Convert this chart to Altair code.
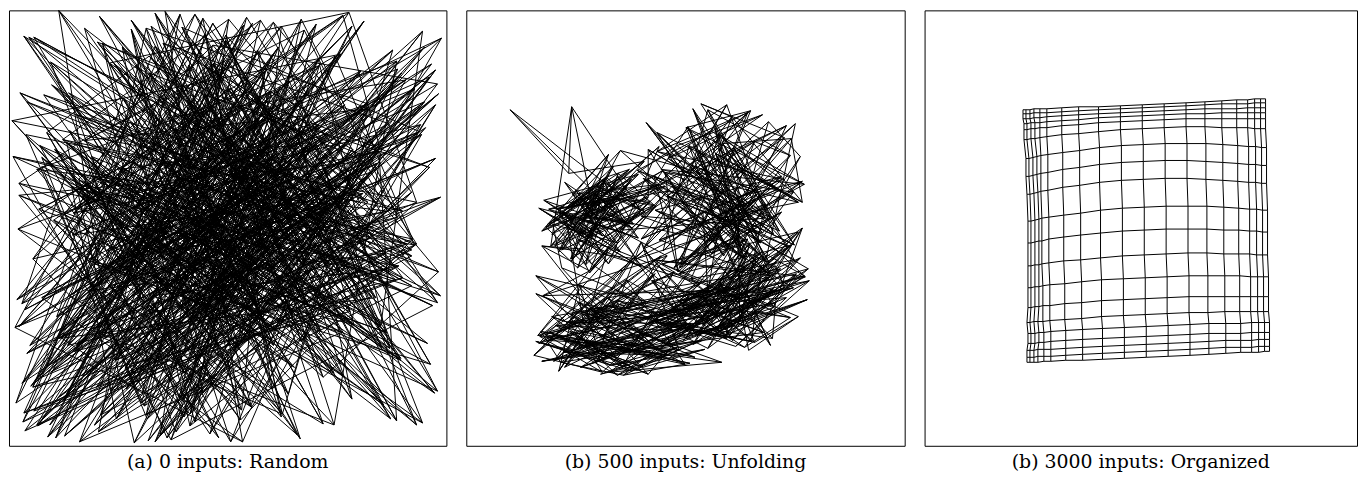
import altair as alt
import pandas as pd

# ---- panel (a): random initial weights (node x / y, one list per mesh row) ----
XA = [
    [212, 37, 398, 145, 276, 61, 330, 187, 9, 421, 254, 103, 366, 28, 299, 170, 433, 82, 241, 355],
    [130, 407, 56, 318, 199, 15, 264, 392, 117, 233, 47, 344, 161, 284, 426, 72, 207, 381, 138, 19],
    [289, 94, 223, 434, 166, 309, 41, 374, 251, 125, 197, 412, 5, 336, 88, 270, 152, 30, 397, 214],
    [51, 348, 181, 13, 402, 109, 238, 67, 322, 186, 431, 98, 277, 220, 140, 363, 24, 305, 172, 420],
    [384, 157, 270, 329, 83, 436, 127, 205, 40, 358, 149, 261, 388, 63, 246, 11, 338, 114, 281, 75],
    [18, 226, 120, 392, 259, 31, 417, 296, 174, 66, 313, 185, 44, 410, 133, 229, 375, 208, 58, 343],
    [247, 70, 340, 195, 15, 273, 142, 355, 92, 425, 230, 17, 319, 161, 290, 398, 104, 256, 434, 167],
    [101, 415, 35, 237, 361, 188, 57, 268, 407, 135, 35, 379, 214, 82, 349, 44, 192, 311, 123, 285],
    [329, 176, 288, 8, 143, 396, 225, 117, 300, 252, 160, 65, 433, 255, 12, 178, 420, 68, 219, 393],
    [62, 302, 154, 431, 219, 93, 345, 26, 183, 376, 418, 110, 275, 178, 327, 232, 146, 383, 27, 245],
    [407, 140, 218, 96, 318, 248, 6, 408, 235, 48, 198, 292, 121, 368, 90, 437, 266, 162, 335, 112],
    [158, 264, 377, 52, 187, 428, 165, 330, 72, 289, 131, 23, 347, 201, 284, 58, 204, 401, 20, 266],
    [292, 32, 113, 283, 363, 78, 299, 184, 416, 126, 356, 243, 174, 33, 418, 153, 314, 86, 372, 142],
    [22, 382, 243, 169, 49, 214, 393, 102, 267, 197, 17, 391, 87, 246, 125, 337, 30, 236, 176, 427],
    [363, 207, 16, 410, 296, 136, 54, 358, 153, 325, 250, 116, 304, 430, 198, 73, 383, 276, 55, 309],
    [126, 300, 189, 73, 237, 347, 262, 10, 220, 412, 85, 178, 40, 143, 371, 272, 128, 12, 254, 189],
    [415, 88, 322, 268, 124, 26, 184, 313, 385, 45, 278, 431, 225, 317, 52, 207, 433, 159, 390, 78],
    [186, 246, 50, 149, 386, 199, 425, 128, 60, 231, 149, 303, 96, 184, 260, 112, 292, 347, 108, 236],
    [43, 359, 279, 436, 81, 316, 91, 242, 339, 171, 396, 12, 359, 412, 173, 394, 61, 220, 294, 423],
    [268, 119, 407, 20, 213, 159, 367, 27, 180, 295, 63, 213, 137, 70, 326, 18, 240, 373, 141, 35],
]
YA = [
    [341, 88, 205, 19, 412, 163, 270, 34, 398, 121, 308, 56, 232, 375, 141, 427, 77, 285, 10, 196],
    [59, 250, 133, 372, 27, 298, 182, 416, 91, 340, 214, 5, 286, 110, 359, 173, 38, 247, 401, 128],
    [224, 410, 12, 266, 169, 74, 432, 145, 301, 22, 388, 196, 114, 47, 258, 325, 203, 420, 66, 293],
    [393, 143, 311, 86, 238, 355, 18, 207, 127, 267, 63, 333, 409, 176, 21, 97, 381, 136, 317, 40],
    [117, 36, 236, 420, 324, 191, 271, 99, 361, 187, 437, 155, 43, 290, 402, 223, 8, 163, 244, 370],
    [304, 192, 384, 54, 104, 421, 128, 336, 7, 229, 118, 262, 367, 82, 195, 313, 141, 56, 431, 181],
    [16, 340, 98, 206, 378, 40, 224, 263, 427, 70, 343, 29, 218, 433, 121, 272, 386, 230, 87, 309],
    [245, 125, 292, 437, 150, 261, 395, 15, 186, 398, 151, 400, 106, 255, 319, 55, 188, 17, 372, 214],
    [368, 20, 171, 322, 66, 353, 81, 161, 299, 43, 254, 180, 297, 13, 177, 412, 95, 346, 133, 62],
    [86, 268, 431, 152, 245, 9, 306, 382, 58, 320, 24, 414, 80, 347, 243, 151, 290, 263, 30, 401],
    [280, 410, 53, 284, 419, 211, 150, 233, 415, 143, 307, 96, 252, 165, 382, 31, 334, 111, 196, 263],
    [143, 85, 342, 3, 190, 300, 435, 49, 199, 362, 176, 340, 19, 301, 74, 208, 429, 73, 348, 88],
    [430, 203, 162, 389, 102, 134, 23, 354, 118, 255, 64, 220, 393, 139, 418, 277, 59, 282, 157, 436],
    [30, 327, 277, 122, 433, 62, 211, 280, 384, 11, 408, 274, 170, 233, 13, 327, 163, 405, 238, 57],
    [196, 57, 417, 239, 12, 388, 332, 102, 246, 197, 316, 40, 301, 388, 104, 437, 205, 19, 326, 129],
    [355, 232, 7, 183, 295, 178, 114, 294, 33, 420, 150, 367, 126, 49, 292, 121, 251, 321, 98, 417],
    [100, 420, 194, 340, 115, 253, 409, 52, 343, 78, 227, 98, 437, 204, 333, 16, 386, 156, 261, 21],
    [266, 157, 311, 39, 414, 88, 161, 438, 136, 274, 6, 299, 36, 421, 64, 218, 112, 394, 57, 246],
    [420, 14, 134, 290, 179, 326, 35, 227, 372, 185, 355, 189, 155, 238, 393, 260, 340, 28, 232, 338],
    [47, 363, 244, 95, 351, 4, 291, 406, 82, 434, 124, 433, 292, 108, 181, 426, 82, 198, 414, 160],
]

# ---- panel (b): after 500 inputs, partially unfolded ----
XB = [
    [118, 158, 44, 103, 179, 134, 86, 148, 194, 128, 212, 298, 185, 257, 320, 236, 279, 198, 331, 265],
    [93, 138, 175, 106, 125, 80, 164, 115, 143, 202, 284, 203, 246, 318, 176, 267, 338, 224, 301, 250],
    [148, 103, 131, 85, 185, 120, 140, 168, 97, 155, 231, 309, 262, 192, 290, 215, 327, 248, 181, 274],
    [123, 195, 76, 135, 112, 153, 101, 129, 173, 117, 322, 244, 178, 283, 225, 306, 258, 202, 294, 336],
    [167, 107, 143, 122, 89, 189, 131, 82, 146, 198, 259, 192, 313, 240, 286, 172, 330, 269, 217, 304],
    [99, 137, 117, 161, 127, 105, 180, 141, 92, 124, 207, 296, 251, 334, 221, 278, 189, 315, 243, 282],
    [133, 78, 173, 114, 150, 136, 96, 121, 200, 157, 301, 228, 275, 196, 340, 254, 213, 289, 326, 237],
    [110, 155, 125, 73, 119, 166, 145, 106, 132, 183, 183, 268, 305, 223, 261, 329, 200, 247, 290, 176],
    [152, 94, 129, 176, 102, 122, 83, 162, 115, 139, 245, 317, 190, 280, 234, 298, 271, 338, 209, 263],
    [87, 126, 191, 113, 141, 100, 159, 124, 76, 171, 292, 216, 256, 178, 325, 238, 306, 194, 273, 330],
    [96, 181, 72, 143, 235, 118, 202, 77, 160, 254, 262, 317, 214, 290, 338, 243, 189, 301, 275, 226],
    [148, 70, 214, 125, 88, 190, 137, 246, 105, 171, 329, 236, 283, 197, 309, 258, 341, 221, 292, 250],
    [70, 133, 176, 222, 152, 99, 264, 120, 196, 82, 205, 296, 252, 334, 231, 280, 193, 318, 245, 306],
    [189, 114, 93, 168, 240, 141, 73, 209, 130, 230, 274, 219, 312, 246, 187, 327, 265, 238, 344, 287],
    [126, 208, 150, 68, 179, 262, 112, 157, 248, 101, 240, 304, 200, 283, 255, 221, 336, 271, 313, 196],
    [230, 90, 195, 137, 74, 161, 220, 86, 174, 143, 316, 261, 343, 228, 296, 207, 277, 324, 252, 289],
    [104, 172, 247, 119, 204, 131, 79, 238, 115, 185, 229, 285, 256, 309, 184, 340, 243, 297, 266, 320],
    [166, 70, 139, 226, 98, 255, 152, 121, 216, 76, 299, 213, 332, 268, 250, 303, 195, 287, 233, 311],
    [212, 145, 84, 183, 129, 170, 236, 95, 158, 268, 258, 326, 280, 217, 345, 247, 311, 203, 290, 276],
    [135, 240, 178, 107, 257, 144, 192, 75, 225, 163, 218, 293, 242, 322, 271, 190, 308, 255, 334, 284],
]
YB = [
    [190, 215, 103, 167, 155, 205, 228, 181, 140, 197, 139, 108, 186, 222, 131, 97, 163, 245, 117, 175],
    [246, 174, 204, 100, 192, 221, 163, 211, 258, 185, 200, 152, 124, 173, 233, 110, 196, 139, 256, 121],
    [160, 202, 183, 240, 195, 259, 171, 218, 206, 144, 165, 228, 98, 145, 184, 262, 132, 205, 116, 240],
    [206, 178, 225, 196, 262, 167, 201, 187, 232, 214, 119, 176, 243, 106, 158, 211, 137, 190, 228, 150],
    [222, 188, 148, 210, 240, 199, 180, 218, 193, 164, 250, 126, 183, 215, 104, 164, 239, 141, 197, 115],
    [176, 230, 199, 216, 186, 253, 206, 171, 203, 267, 180, 237, 147, 196, 121, 252, 170, 225, 103, 190],
    [213, 194, 168, 228, 202, 190, 244, 209, 180, 224, 212, 102, 230, 163, 178, 128, 266, 199, 149, 232],
    [184, 246, 215, 202, 232, 173, 195, 255, 217, 191, 143, 194, 257, 120, 221, 186, 166, 248, 135, 210],
    [237, 206, 188, 261, 218, 227, 203, 179, 243, 211, 235, 170, 204, 252, 144, 227, 191, 175, 262, 218],
    [218, 258, 200, 234, 249, 210, 227, 265, 240, 253, 188, 259, 226, 172, 241, 205, 270, 234, 157, 254],
    [262, 296, 330, 241, 278, 318, 250, 290, 347, 226, 241, 206, 268, 300, 222, 287, 254, 198, 316, 273],
    [318, 270, 345, 302, 356, 268, 331, 285, 309, 340, 282, 314, 233, 258, 302, 195, 271, 332, 246, 220],
    [288, 347, 236, 320, 295, 362, 281, 310, 250, 335, 306, 247, 290, 226, 329, 265, 310, 284, 205, 340],
    [340, 279, 366, 252, 313, 300, 338, 266, 357, 302, 229, 296, 256, 318, 275, 239, 330, 292, 263, 313],
    [305, 325, 284, 350, 244, 333, 297, 362, 288, 317, 318, 271, 340, 244, 297, 325, 252, 309, 283, 336],
    [352, 320, 310, 367, 331, 274, 359, 311, 343, 292, 263, 330, 294, 339, 251, 305, 278, 241, 322, 295],
    [326, 365, 297, 340, 350, 316, 329, 284, 362, 338, 300, 238, 325, 283, 317, 270, 343, 260, 307, 282],
    [366, 336, 353, 318, 347, 305, 370, 341, 323, 356, 327, 296, 268, 335, 304, 249, 319, 336, 290, 260],
    [342, 360, 327, 369, 311, 348, 335, 357, 370, 320, 285, 312, 342, 300, 275, 330, 297, 318, 337, 303],
    [369, 344, 362, 336, 357, 367, 349, 326, 358, 346, 336, 306, 325, 292, 341, 316, 333, 278, 311, 345],
]

# ---- panel (c): after 3000 inputs, organized ----
XC = [
    [99, 102, 106, 110, 116, 123, 138, 155, 175, 197, 219, 241, 263, 282, 299, 314, 325, 332, 338, 343],
    [99, 102, 106, 110, 116, 123, 138, 155, 175, 197, 219, 241, 263, 282, 299, 314, 325, 332, 338, 343],
    [99, 102, 106, 110, 116, 123, 138, 155, 175, 197, 219, 241, 263, 282, 299, 314, 325, 332, 338, 343],
    [100, 103, 107, 111, 116, 123, 138, 155, 175, 197, 219, 241, 263, 282, 299, 314, 325, 332, 338, 343],
    [100, 103, 107, 111, 116, 123, 138, 155, 175, 197, 219, 241, 263, 282, 299, 314, 325, 332, 338, 343],
    [100, 103, 107, 111, 116, 123, 138, 155, 175, 197, 219, 241, 263, 282, 299, 314, 325, 332, 338, 343],
    [102, 105, 109, 113, 117, 124, 139, 156, 176, 198, 220, 242, 264, 283, 300, 315, 326, 333, 339, 344],
    [102, 105, 109, 113, 117, 124, 139, 156, 176, 198, 220, 242, 264, 283, 300, 315, 326, 333, 339, 344],
    [103, 106, 110, 114, 117, 124, 139, 156, 176, 198, 220, 242, 264, 283, 300, 315, 326, 333, 339, 344],
    [104, 107, 111, 115, 118, 125, 140, 157, 177, 199, 221, 243, 265, 284, 301, 316, 327, 334, 340, 345],
    [104, 107, 111, 115, 118, 125, 140, 157, 177, 199, 221, 243, 265, 284, 301, 316, 327, 334, 340, 345],
    [104, 107, 111, 115, 118, 125, 140, 157, 177, 199, 221, 243, 265, 284, 301, 316, 327, 334, 340, 345],
    [104, 107, 111, 115, 119, 126, 141, 158, 178, 200, 222, 244, 266, 285, 302, 317, 328, 335, 341, 346],
    [104, 107, 111, 115, 119, 126, 141, 158, 178, 200, 222, 244, 266, 285, 302, 317, 328, 335, 341, 346],
    [103, 106, 110, 114, 119, 126, 141, 158, 178, 200, 222, 244, 266, 285, 302, 317, 328, 335, 341, 346],
    [104, 107, 111, 115, 120, 127, 142, 159, 179, 201, 223, 245, 267, 286, 303, 318, 329, 336, 342, 347],
    [104, 107, 111, 115, 120, 127, 142, 159, 179, 201, 223, 245, 267, 286, 303, 318, 329, 336, 342, 347],
    [103, 106, 110, 114, 120, 127, 142, 159, 179, 201, 223, 245, 267, 286, 303, 318, 329, 336, 342, 347],
    [103, 106, 110, 114, 120, 127, 142, 159, 179, 201, 223, 245, 267, 286, 303, 318, 329, 336, 342, 347],
    [103, 106, 110, 114, 120, 127, 142, 159, 179, 201, 223, 245, 267, 286, 303, 318, 329, 336, 342, 347],
]
YC = [
    [103, 103, 103, 102, 102, 102, 101, 100, 100, 99, 98, 97, 96, 95, 94, 93, 93, 92, 92, 92],
    [107, 107, 107, 106, 106, 106, 105, 104, 103, 102, 101, 100, 99, 98, 97, 97, 97, 96, 96, 96],
    [112, 112, 112, 111, 111, 110, 109, 108, 107, 106, 105, 104, 103, 102, 102, 102, 101, 101, 101, 101],
    [117, 117, 116, 116, 116, 115, 114, 113, 111, 110, 109, 108, 107, 107, 106, 106, 106, 106, 106, 106],
    [123, 123, 122, 122, 121, 121, 119, 118, 116, 115, 114, 113, 112, 112, 112, 112, 112, 112, 112, 112],
    [133, 133, 132, 132, 131, 130, 128, 127, 125, 123, 122, 121, 120, 120, 121, 121, 121, 122, 122, 122],
    [152, 152, 151, 150, 149, 148, 146, 144, 141, 139, 138, 137, 137, 137, 138, 139, 140, 140, 141, 141],
    [170, 170, 169, 168, 167, 166, 163, 161, 158, 156, 155, 154, 154, 155, 156, 157, 158, 158, 159, 159],
    [188, 188, 187, 186, 185, 184, 181, 179, 176, 174, 173, 172, 172, 173, 174, 175, 176, 176, 177, 177],
    [215, 215, 214, 213, 212, 211, 209, 207, 204, 202, 201, 200, 200, 200, 201, 202, 203, 203, 204, 204],
    [237, 237, 236, 235, 235, 233, 231, 229, 227, 225, 224, 223, 223, 223, 224, 224, 225, 225, 226, 226],
    [260, 260, 259, 259, 258, 257, 255, 254, 252, 250, 249, 248, 247, 247, 248, 248, 248, 249, 249, 249],
    [282, 282, 281, 281, 280, 279, 278, 276, 274, 273, 272, 271, 270, 270, 270, 270, 271, 271, 271, 271],
    [302, 302, 301, 301, 300, 300, 298, 297, 295, 294, 293, 292, 291, 291, 291, 291, 291, 291, 291, 291],
    [317, 317, 316, 316, 316, 315, 314, 313, 311, 310, 309, 308, 307, 307, 306, 306, 306, 306, 306, 306],
    [328, 328, 328, 327, 327, 326, 325, 324, 323, 322, 321, 320, 319, 318, 318, 318, 317, 317, 317, 317],
    [338, 338, 338, 337, 337, 336, 335, 334, 333, 332, 331, 330, 329, 328, 328, 328, 327, 327, 327, 327],
    [345, 345, 345, 344, 344, 344, 343, 342, 341, 340, 339, 338, 337, 336, 335, 335, 335, 334, 334, 334],
    [352, 352, 352, 351, 351, 351, 350, 349, 348, 347, 346, 345, 344, 343, 342, 342, 342, 341, 341, 341],
    [357, 357, 357, 357, 356, 356, 355, 355, 354, 353, 352, 351, 350, 349, 348, 347, 347, 347, 346, 346],
]

CAPTIONS = ["(a) 0 inputs: Random", "(b) 500 inputs: Unfolding", "(b) 3000 inputs: Organized"]
# visible data window of each panel (x from, x to) and the shared y window
X_WINDOWS = [[2, 442], [0, 441], [0, 435]]
Y_WINDOW = [3, 441]


def mesh_frame(X, Y):
    recs = []
    n_rows = len(X)
    n_cols = min(min(len(r) for r in X), min(len(r) for r in Y))
    for j in range(n_rows):
        for i in range(n_cols):
            recs.append({"x": X[j][i], "y": Y[j][i], "line": f"r{j}", "ord": i})
            recs.append({"x": X[j][i], "y": Y[j][i], "line": f"c{i}", "ord": j})
    return pd.DataFrame(recs)


def panel(X, Y, xwin, caption):
    df = mesh_frame(X, Y)
    w = xwin[1] - xwin[0]
    h = Y_WINDOW[1] - Y_WINDOW[0]
    return (
        alt.Chart(df)
        .mark_line(color="black", strokeWidth=1, clip=True)
        .encode(
            x=alt.X("x:Q", scale=alt.Scale(domain=xwin, nice=False, zero=False), axis=None),
            y=alt.Y("y:Q", scale=alt.Scale(domain=Y_WINDOW, nice=False, zero=False, reverse=True), axis=None),
            detail="line:N",
            order="ord:Q",
        )
        .properties(
            width=w,
            height=h,
            title=alt.TitleParams(
                text=caption,
                orient="bottom",
                anchor="middle",
                font="DejaVu Serif",
                fontSize=19,
                fontWeight="normal",
                color="black",
                offset=7,
            ),
        )
    )


chart = (
    alt.hconcat(
        panel(XA, YA, X_WINDOWS[0], CAPTIONS[0]),
        panel(XB, YB, X_WINDOWS[1], CAPTIONS[1]),
        panel(XC, YC, X_WINDOWS[2], CAPTIONS[2]),
        spacing=18,
    )
    .properties(padding={"left": 0, "top": 0, "right": 0, "bottom": 0}, background="white")
    .configure_view(stroke="black", strokeWidth=1)
)

chart.save("out.html", embed_options={"renderer": "svg", "actions": False})
